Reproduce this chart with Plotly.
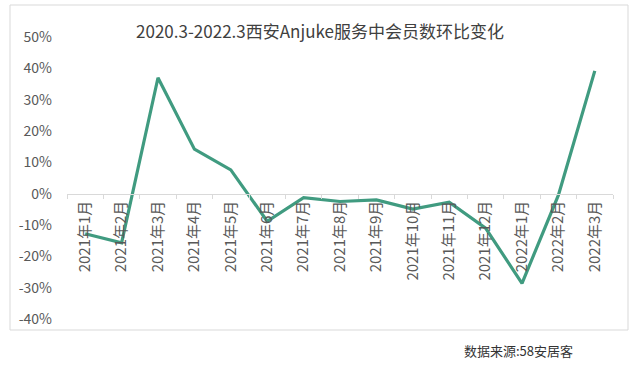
import plotly.graph_objects as go

categories = ["2021年1月", "2021年2月", "2021年3月", "2021年4月", "2021年5月", "2021年6月",
              "2021年7月", "2021年8月", "2021年9月", "2021年10月", "2021年11月", "2021年12月",
              "2022年1月", "2022年2月", "2022年3月"]
values = [-12.8, -15.7, 37.0, 14.2, 7.6, -8.8, -1.3, -2.5, -2.0, -4.9, -2.7, -11.0, -28.6, -0.5, 39.2]
y_ticks = [50, 40, 30, 20, 10, 0, -10, -20, -30, -40]

title_text = "2020.3-2022.3西安Anjuke服务中会员数环比变化"
source_text = "数据来源:58安居客"

W, H = 640, 368
L, R, T, B = 67, 27, 37, 49
pw = W - L - R
ph = H - T - B

def px_x(p):
    return (p - L) / pw

def px_y(p):
    return (H - B - p) / ph

font_family = "Noto Sans CJK SC"

fig = go.Figure()
fig.add_trace(go.Scatter(
    x=categories, y=values, mode="lines",
    line=dict(color="#409b80", width=3.2),
    hoverinfo="skip", showlegend=False,
))

ymin, ymax = -40, 50
fig.update_layout(
    width=W, height=H,
    margin=dict(l=L, r=R, t=T, b=B, pad=0),
    paper_bgcolor="white", plot_bgcolor="white",
    font=dict(family=font_family, color="#595959", size=14),
    title=dict(text=title_text, x=0.5, xanchor="center", y=1 - 32 / H, yanchor="middle",
               font=dict(family=font_family, size=17, color="#404040")),
    xaxis=dict(
        type="category", range=[-0.5, len(categories) - 0.5],
        anchor="free", position=(0 - ymin) / (ymax - ymin),
        showline=True, linecolor="#d9d9d9", linewidth=1,
        ticks="outside", tickson="boundaries", ticklen=4, tickcolor="#d9d9d9",
        tickangle=-90, showgrid=False, zeroline=False,
        tickfont=dict(size=15, color="#595959"),
    ),
    yaxis=dict(
        range=[ymin, ymax], tickvals=y_ticks, ticktext=[f"{v}%" for v in y_ticks],
        showgrid=False, zeroline=False, showline=False, ticks="",
        ticklabelstandoff=14, tickfont=dict(size=14, color="#595959"),
    ),
    shapes=[dict(type="rect", xref="paper", yref="paper",
                 x0=px_x(10), x1=px_x(628), y0=px_y(330), y1=px_y(5),
                 line=dict(color="#d9d9d9", width=1), fillcolor="rgba(0,0,0,0)", layer="below")],
    annotations=[dict(text=source_text, xref="paper", yref="paper",
                      x=px_x(462), y=px_y(350), xanchor="left", yanchor="middle",
                      showarrow=False, font=dict(family=font_family, size=13, color="#333333"))],
)

fig.write_html("out.html")
